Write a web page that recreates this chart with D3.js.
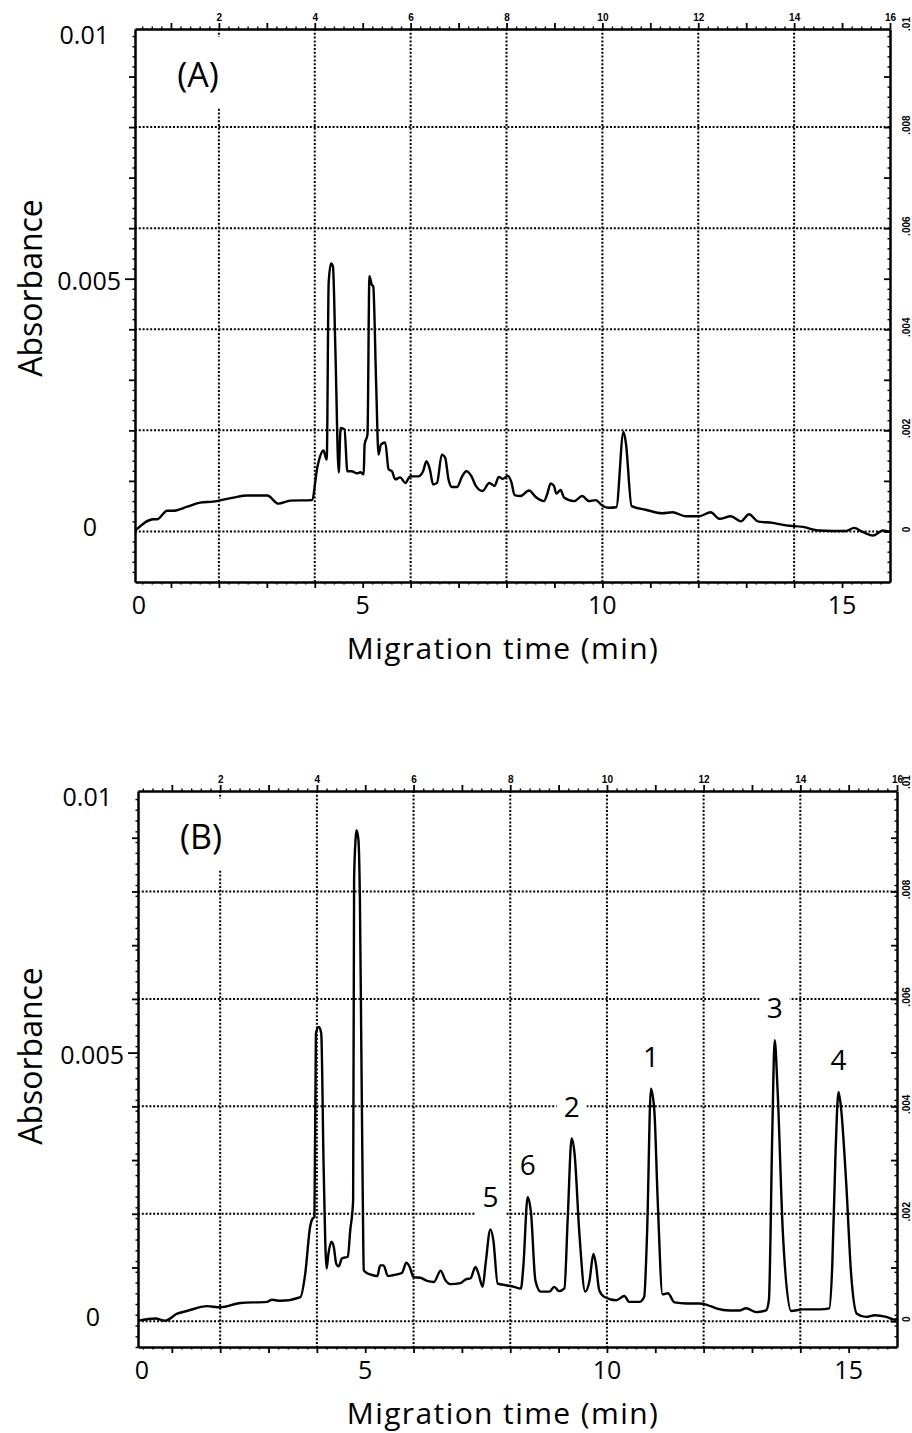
<!DOCTYPE html>
<html>
<head>
<meta charset="utf-8">
<script src="https://cdn.jsdelivr.net/npm/d3@7"></script>
<style>
  body { margin: 0; background: #fff; }
  svg { display: block; }
  .lbl { font-family: "Open Sans", sans-serif; fill: #000; }
  .tiny text { font-family: "Liberation Sans", Arial, sans-serif; font-weight: bold; font-size: 10px; }
</style>
</head>
<body>
<div id="chart"></div>
<script>
// absorbance is kept in units of 0.001 AU
var timeA = [0.27, 0.63, 0.71, 0.92, 1.04, 1.34, 1.61, 1.88, 2.30, 2.59, 3.01, 3.24, 3.49, 3.94, 4.06, 4.18, 4.25,
  4.29, 4.34, 4.38, 4.43, 4.50, 4.54, 4.62, 4.68, 4.77, 4.88, 4.95, 5.02, 5.04, 5.10, 5.14, 5.19, 5.22, 5.28,
  5.33, 5.38, 5.47, 5.54, 5.61, 5.68, 5.78, 5.89, 5.99, 6.16, 6.26, 6.33, 6.40, 6.47, 6.55, 6.65, 6.72, 6.79,
  6.86, 6.97, 7.07, 7.16, 7.27, 7.36, 7.50, 7.64, 7.75, 7.84, 7.92, 8.03, 8.10, 8.17, 8.29, 8.47, 8.61, 8.78,
  8.85, 8.92, 8.99, 9.04, 9.13, 9.20, 9.41, 9.58, 9.72, 9.86, 10.00, 10.14, 10.29, 10.44, 10.49, 10.61, 10.90,
  11.25, 11.46, 11.74, 12.02, 12.26, 12.44, 12.68, 12.89, 13.06, 13.24, 13.55, 13.83, 14.18, 14.52, 15.08,
  15.25, 15.43, 15.65, 15.85, 16.00];
var absA = [0.03, 0.24, 0.24, 0.41, 0.41, 0.49, 0.57, 0.59, 0.67, 0.71, 0.71, 0.55, 0.61, 0.62, 1.30, 1.60, 1.42,
  4.92, 5.30, 5.24, 3.60, 1.17, 2.05, 2.02, 1.19, 1.19, 1.15, 1.17, 1.13, 1.72, 1.92, 5.05, 4.88, 4.85, 2.94,
  1.52, 1.72, 1.76, 1.23, 1.19, 1.03, 1.07, 0.96, 1.09, 1.09, 1.19, 1.39, 1.23, 0.93, 0.96, 1.52, 1.46, 1.03,
  0.88, 0.88, 1.08, 1.19, 1.09, 0.90, 0.80, 0.96, 0.90, 1.08, 1.04, 1.10, 0.98, 0.72, 0.70, 0.81, 0.68, 0.60,
  0.74, 0.95, 0.90, 0.75, 0.82, 0.67, 0.60, 0.70, 0.60, 0.62, 0.51, 0.47, 0.48, 1.97, 1.75, 0.50, 0.43,
  0.36, 0.38, 0.30, 0.30, 0.38, 0.25, 0.30, 0.20, 0.34, 0.20, 0.17, 0.12, 0.09, 0.02, 0.01,
  0.07, -0.01, -0.08, 0.02, -0.01];

var timeB = [0.31, 0.66, 0.86, 1.11, 1.31, 1.73, 2.00, 2.42, 2.97, 3.07, 3.24, 3.66, 3.76, 3.86, 3.91, 3.95,
  3.98, 4.04, 4.09, 4.14, 4.20, 4.24, 4.30, 4.35, 4.40, 4.45, 4.52, 4.64, 4.69, 4.75, 4.77, 4.80, 4.82, 4.86,
  4.89, 4.92, 4.95, 4.97, 5.00, 5.14, 5.25, 5.31, 5.38, 5.47, 5.59, 5.76, 5.85, 5.92, 6.00, 6.14, 6.28, 6.42,
  6.56, 6.66, 6.76, 6.97, 7.08, 7.18, 7.28, 7.34, 7.43, 7.49, 7.59, 7.65, 7.74, 7.91, 8.08, 8.22, 8.27, 8.36,
  8.43, 8.52, 8.63, 8.81, 8.91, 9.01, 9.12, 9.19, 9.27, 9.33, 9.43, 9.55, 9.64, 9.72, 9.77, 9.84, 9.95,
  10.19, 10.36, 10.46, 10.67, 10.77, 10.83, 10.91, 10.98, 11.05, 11.15, 11.26, 11.40, 11.64, 11.91, 12.08,
  12.26, 12.53, 12.74, 12.88, 13.09, 13.29, 13.35, 13.42, 13.47, 13.53, 13.64, 13.81, 14.05, 14.40, 14.60,
  14.66, 14.73, 14.79, 14.84, 14.95, 15.05, 15.17, 15.36, 15.54, 15.78, 15.95, 16.00];
var absB = [0.01, 0.05, 0.01, 0.14, 0.19, 0.28, 0.26, 0.34, 0.36, 0.40, 0.38, 0.45, 0.89, 1.76, 1.91, 1.94,
  5.36, 5.48, 5.36, 2.87, 0.98, 1.26, 1.48, 1.38, 1.07, 1.02, 1.17, 1.20, 1.69, 2.25, 8.21, 8.96, 9.14, 8.96,
  7.84, 5.05, 2.25, 0.95, 0.92, 0.86, 0.84, 1.04, 1.04, 0.84, 0.86, 0.90, 1.09, 1.01, 0.82, 0.81, 0.75, 0.73,
  0.94, 0.76, 0.69, 0.71, 0.78, 0.80, 1.01, 0.89, 0.64, 1.07, 1.71, 1.51, 0.70, 0.67, 0.64, 0.61, 1.01, 2.31,
  2.01, 0.76, 0.55, 0.55, 0.64, 0.56, 0.61, 1.94, 3.40, 3.12, 1.63, 0.55, 0.76, 1.25, 1.07, 0.58, 0.45,
  0.39, 0.47, 0.36, 0.36, 0.45, 1.63, 4.33, 3.93, 2.25, 0.50, 0.52, 0.35, 0.33, 0.33, 0.30,
  0.24, 0.20, 0.20, 0.24, 0.17, 0.20, 0.39, 3.50, 5.23, 4.30, 1.63, 0.19, 0.22, 0.22, 0.24,
  1.01, 3.18, 4.27, 3.99, 2.56, 0.89, 0.14, 0.08, 0.11, 0.08, 0.03, 0.05];

var gridTimes = [2, 4, 6, 8, 10, 12, 14];
var gridAbs = [0, 2, 4, 6, 8];
var bottomTicks = [0, 5, 10, 15];
var leftTickValues = [0, 5, 10];
var leftTickLabels = ["0", "0.005", "0.01"];
var rightTickValues = [0, 2, 4, 6, 8, 10];
var rightTickLabels = ["0", ".002", ".004", ".006", ".008", ".01"];
var peakNames = ["1", "2", "3", "4", "5", "6"];
var peakTimes = [10.91, 9.27, 13.47, 14.79, 7.59, 8.36];

var width = 912, height = 1433;

var svg = d3.select("#chart")
  .append("svg")
  .attr("width", width)
  .attr("height", height);

// offsets of the left labels from the axis (dx) and from their value (dy)
var leftPos = {"0": [-38, -4], "0.005": [-14, 2], "0.01": [-26, 0]};

function dotted(sel) {
  sel.attr("stroke", "#000")
    .attr("stroke-width", 2)
    .attr("stroke-dasharray", "2,1.8");
}

function styleAxis(sel, w) {
  sel.select(".domain").attr("stroke-width", 2.5);
  sel.selectAll(".tick line").attr("stroke-width", w);
}

function drawPanel(o) {
  var x = d3.scaleLinear().domain(o.xDomain).range(o.xRange);
  var y = d3.scaleLinear().domain(o.yDomain).range(o.yRange);
  var x0 = o.xRange[0], x1 = o.xRange[1], yb = o.yRange[0], yt = o.yRange[1];
  var g = svg.append("g");

  // dotted grid
  g.selectAll(".vgrid").data(gridTimes).enter().append("line")
    .attr("x1", function(d) { return x(d); })
    .attr("x2", function(d) { return x(d); })
    .attr("y1", yt).attr("y2", yb)
    .call(dotted);
  g.selectAll(".hgrid").data(gridAbs).enter().append("line")
    .attr("x1", x0).attr("x2", x1)
    .attr("y1", function(d) { return y(d); })
    .attr("y2", function(d) { return y(d); })
    .call(dotted);

  // the pasted letters cover the grid
  g.append("rect")
    .attr("x", o.letterX - 36).attr("y", yt + 8)
    .attr("width", 72).attr("height", 70)
    .attr("fill", "#fff");

  var data = d3.zip(o.time, o.abs);

  var peaks = [];
  if (o.peaks) {
    peaks = peakNames.map(function(n, i) {
      var near = data.filter(function(d) { return Math.abs(d[0] - peakTimes[i]) < 0.15; });
      var top = d3.max(near, function(d) { return d[1]; });
      return {name: n, x: x(peakTimes[i]), y: y(top) - 22};
    });
    g.selectAll(".pbox").data(peaks).enter().append("rect")
      .attr("x", function(d) { return d.x - 15; })
      .attr("y", function(d) { return d.y - 27; })
      .attr("width", 30).attr("height", 36)
      .attr("fill", "#fff");
  }

  // axes: major ticks every minute / 0.001, minor every 0.2
  var minT = d3.range(0.4, 16, 0.2).filter(function(t) { return Math.abs(t - Math.round(t)) > 0.05 && t > o.xDomain[0]; });
  var minA = d3.range(o.yDomain[0], o.yDomain[1], 0.2).filter(function(a) { return Math.abs(a - Math.round(a)) > 0.05; });

  g.append("g").attr("transform", "translate(0," + yb + ")")
    .call(d3.axisBottom(x).tickValues(d3.range(1, 16)).tickSize(6).tickSizeOuter(0).tickFormat(""))
    .call(styleAxis, 1.8);
  g.append("g").attr("transform", "translate(0," + yb + ")")
    .call(d3.axisBottom(x).tickValues(minT).tickSize(2.5).tickFormat(""))
    .call(function(s) { s.select(".domain").remove(); s.selectAll("line").attr("stroke-width", 1.4); });

  g.append("g").attr("class", "tiny").attr("transform", "translate(0," + yt + ")")
    .call(d3.axisTop(x).tickValues(d3.range(1, 17)).tickSize(6).tickSizeOuter(0).tickPadding(2)
      .tickFormat(function(d) { return d % 2 === 0 ? d : ""; }))
    .call(styleAxis, 1.8);
  g.append("g").attr("transform", "translate(0," + yt + ")")
    .call(d3.axisTop(x).tickValues(minT).tickSize(2.5).tickFormat(""))
    .call(function(s) { s.select(".domain").remove(); s.selectAll("line").attr("stroke-width", 1.4); });

  g.append("g").attr("transform", "translate(" + x0 + ",0)")
    .call(d3.axisLeft(y).tickValues(d3.range(0, 10)).tickSize(6).tickSizeOuter(0).tickFormat(""))
    .call(styleAxis, 1.8)
    .call(function(s) {
      s.selectAll(".tick line").attr("x2", function(d) { return d === 5 ? -10 : (d === 0 ? 0 : -6); });
    });
  g.append("g").attr("transform", "translate(" + x0 + ",0)")
    .call(d3.axisLeft(y).tickValues(minA).tickSize(2.5).tickFormat(""))
    .call(function(s) { s.select(".domain").remove(); s.selectAll("line").attr("stroke-width", 1.4); });

  g.append("g").attr("transform", "translate(" + x1 + ",0)")
    .call(d3.axisRight(y).tickValues(d3.range(0, 10)).tickSize(-6).tickSizeOuter(0).tickFormat(""))
    .call(styleAxis, 1.8);
  g.append("g").attr("transform", "translate(" + x1 + ",0)")
    .call(d3.axisRight(y).tickValues(minA).tickSize(-2.5).tickFormat(""))
    .call(function(s) { s.select(".domain").remove(); s.selectAll("line").attr("stroke-width", 1.4); });

  // right labels, printed sideways
  g.selectAll(".rlab").data(rightTickValues).enter().append("text")
    .attr("transform", function(d) { return "translate(" + o.rightLabelX + "," + (y(d) - 2) + ") rotate(-90)"; })
    .attr("text-anchor", "middle")
    .style("font-family", "'Liberation Sans', Arial, sans-serif")
    .style("font-weight", "bold")
    .style("font-size", "10px")
    .text(function(d, i) { return rightTickLabels[i]; });

  // trace
  var line = d3.line()
    .x(function(d) { return x(d[0]); })
    .y(function(d) { return y(d[1]); })
    .curve(d3.curveMonotoneX);

  g.append("path")
    .datum(data)
    .attr("d", line)
    .attr("fill", "none")
    .attr("stroke", "#000")
    .attr("stroke-width", 2.4)
    .attr("stroke-linejoin", "round");

  // text
  g.selectAll(".llab").data(leftTickValues).enter().append("text")
    .attr("class", "lbl")
    .attr("x", function(d, i) { return x0 + leftPos[leftTickLabels[i]][0]; })
    .attr("y", function(d, i) { return (d === 10 ? yt + 6 : y(d)) + leftPos[leftTickLabels[i]][1]; })
    .attr("dy", "0.36em")
    .attr("text-anchor", "end")
    .style("font-size", "25px")
    .text(function(d, i) { return leftTickLabels[i]; });

  g.selectAll(".blab").data(bottomTicks).enter().append("text")
    .attr("class", "lbl")
    .attr("x", function(d) { return Math.max(x(d), x0 + 4); })
    .attr("y", yb + 32)
    .attr("text-anchor", "middle")
    .style("font-size", "25px")
    .text(function(d) { return d; });

  g.append("text")
    .attr("class", "lbl")
    .attr("x", 503).attr("y", yb + 77)
    .attr("text-anchor", "middle")
    .style("font-size", "30px")
    .style("letter-spacing", "1.4px")
    .text("Migration time (min)");

  g.append("text")
    .attr("class", "lbl")
    .attr("transform", "translate(42," + o.yTitle + ") rotate(-90)")
    .attr("text-anchor", "middle")
    .style("font-size", "32px")
    .text("Absorbance");

  g.append("text")
    .attr("class", "lbl")
    .attr("x", o.letterX).attr("y", yt + o.letterDy)
    .attr("text-anchor", "middle")
    .style("font-size", "34px")
    .text(o.letter);

  g.selectAll(".plab").data(peaks).enter().append("text")
    .attr("class", "lbl")
    .attr("x", function(d) { return d.x; })
    .attr("y", function(d) { return d.y; })
    .attr("text-anchor", "middle")
    .style("font-size", "28px")
    .text(function(d) { return d.name; });
}

drawPanel({
  letter: "(A)", time: timeA, abs: absA,
  xDomain: [0.25, 16], xRange: [135, 890],
  yDomain: [-1, 9.94], yRange: [582, 29],
  letterX: 198, letterDy: 58, yTitle: 288, rightLabelX: 910, peaks: false
});

drawPanel({
  letter: "(B)", time: timeB, abs: absB,
  xDomain: [0.3, 16], xRange: [138, 897],
  yDomain: [-0.48, 9.87], yRange: [1347, 791],
  letterX: 201, letterDy: 58, yTitle: 1056, rightLabelX: 910, peaks: true
});
</script>
</body>
</html>
